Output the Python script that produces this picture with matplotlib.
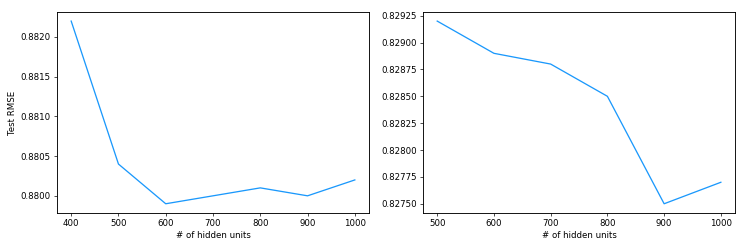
import matplotlib
matplotlib.use('Agg')
import matplotlib.pyplot as plt

units_a = [400, 500, 600, 700, 800, 900, 1000]
rmse_a = [0.8822, 0.8804, 0.8799, 0.8800, 0.8801, 0.8800, 0.8802]
units_b = [500, 600, 700, 800, 900, 1000]
rmse_b = [0.82920, 0.82890, 0.82880, 0.82850, 0.82750, 0.82770]

# original looks like a default-styled figure shrunk by ~0.62
s = 0.62
plt.rcParams.update({'font.size': 10 * s, 'axes.labelpad': 4 * s})
line_color = '#1a98fc'

fig = plt.figure(figsize=(7.47, 2.49), dpi=100)
ax1 = fig.add_axes([0.0763, 0.145, 0.4177, 0.807])
ax2 = fig.add_axes([0.5663, 0.145, 0.4177, 0.807])

ax1.plot(units_a, rmse_a, color=line_color, lw=1.5 * s)
ax1.set_xlabel('# of hidden units')
ax1.set_ylabel('Test RMSE')
ax1.set_yticks([0.8800, 0.8805, 0.8810, 0.8815, 0.8820])
ax1.yaxis.set_major_formatter(plt.FormatStrFormatter('%.4f'))

ax2.plot(units_b, rmse_b, color=line_color, lw=1.5 * s)
ax2.set_xlabel('# of hidden units')
ax2.set_yticks([0.82750, 0.82775, 0.82800, 0.82825, 0.82850, 0.82875, 0.82900, 0.82925])
ax2.yaxis.set_major_formatter(plt.FormatStrFormatter('%.5f'))

for ax in (ax1, ax2):
    ax.tick_params(length=3.5 * s, width=0.8 * s, pad=3.5 * s)
    for sp in ax.spines.values():
        sp.set_linewidth(0.8 * s * 1.3)

fig.savefig('out.png', dpi=100)
